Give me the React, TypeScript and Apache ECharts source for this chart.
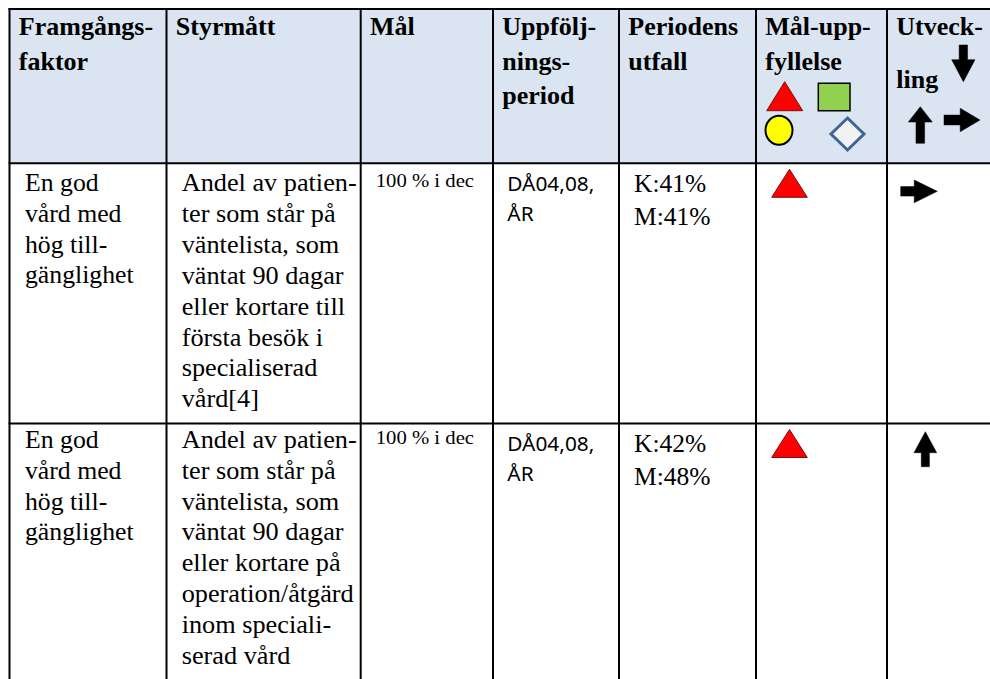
import React, { useEffect, useRef } from "react";
import * as echarts from "echarts";

// ---------- data ----------
const headerLines: string[][] = [
  ["Framgångs-", "faktor"],
  ["Styrmått"],
  ["Mål"],
  ["Uppfölj-", "nings-", "period"],
  ["Periodens", "utfall"],
  ["Mål-upp-", "fyllelse"],
  ["Utveck-"],
];
const headerTrendWord = "ling";

const factors: string[][] = [
  ["En god", "vård med", "hög till-", "gänglighet"],
  ["En god", "vård med", "hög till-", "gänglighet"],
];
const measures: string[][] = [
  ["Andel av patien-", "ter som står på", "väntelista, som", "väntat 90 dagar", "eller kortare till", "första besök i", "specialiserad", "vård[4]"],
  ["Andel av patien-", "ter som står på", "väntelista, som", "väntat 90 dagar", "eller kortare på", "operation/åtgärd", "inom speciali-", "serad vård"],
];
const goals: string[] = ["100 % i dec", "100 % i dec"];
const periods: string[][] = [
  ["DÅ04,08,", "ÅR"],
  ["DÅ04,08,", "ÅR"],
];
const outcomes: string[][] = [
  ["K:41%", "M:41%"],
  ["K:42%", "M:48%"],
];
const fulfilment: string[] = ["red", "red"];
const trends: string[] = ["right", "up"];

// ---------- layout ----------
const COLS = [9.5, 166.5, 360.7, 493, 619, 756, 887, 1000];
const ROWS = [9, 163.3, 423.5, 700];
const HEADER_BG = "#DBE5F1";
const SERIF = '"Liberation Serif", "Times New Roman", serif';
const SANS = '"Noto Sans", "Liberation Sans", sans-serif';

function txt(x: number, baseline: number, lines: string[], size: number, lh: number, opt: any = {}) {
  const k = opt.k ?? 0.3375;
  const y = baseline - k * size - lh / 2;
  return {
    type: "text",
    x,
    y,
    scaleX: opt.scaleX ?? 1,
    silent: true,
    style: {
      text: lines.join("\n"),
      fill: "#000",
      fontSize: size,
      fontFamily: opt.family ?? SERIF,
      fontWeight: opt.bold ? "bold" : "normal",
      lineHeight: lh,
      align: "left",
      verticalAlign: "top",
    },
  };
}

function arrow(dir: string, x0: number, y0: number, x1: number, y1: number, shaft = 0.36, head = 0.5) {
  const pts: number[][] = [];
  if (dir === "up" || dir === "down") {
    const W = x1 - x0, H = y1 - y0, cx = (x0 + x1) / 2, sw = (W * shaft) / 2;
    if (dir === "up") {
      const hy = y0 + H * head;
      pts.push([cx, y0], [x1, hy], [cx + sw, hy], [cx + sw, y1], [cx - sw, y1], [cx - sw, hy], [x0, hy]);
    } else {
      const hy = y1 - H * head;
      pts.push([cx, y1], [x1, hy], [cx + sw, hy], [cx + sw, y0], [cx - sw, y0], [cx - sw, hy], [x0, hy]);
    }
  } else {
    const W = x1 - x0, H = y1 - y0, cy = (y0 + y1) / 2, sw = (H * shaft) / 2;
    const hx = x1 - W * head;
    pts.push([x1, cy], [hx, y0], [hx, cy - sw], [x0, cy - sw], [x0, cy + sw], [hx, cy + sw], [hx, y1]);
  }
  return { type: "polygon", silent: true, shape: { points: pts }, style: { fill: "#000", stroke: "#000", lineWidth: 0.5 } };
}

function triangle(x0: number, y0: number, x1: number, y1: number) {
  return {
    type: "polygon",
    silent: true,
    shape: { points: [[(x0 + x1) / 2, y0], [x1, y1], [x0, y1]] },
    style: { fill: "#FF0000", stroke: "#7a1010", lineWidth: 1 },
  };
}

function symbolColor(s: string) {
  return s === "red" ? "#FF0000" : s === "green" ? "#92D050" : s === "yellow" ? "#FFFF00" : "#F2F2F2";
}

function buildGraphics() {
  const els: any[] = [];
  // header background
  els.push({ type: "rect", silent: true, shape: { x: COLS[0], y: ROWS[0], width: COLS[7] - COLS[0], height: ROWS[1] - ROWS[0] }, style: { fill: HEADER_BG } });

  // header texts
  headerLines.forEach((lines, i) => {
    els.push(txt(COLS[i] + 9.3, 35.5, lines, 26, 34.3, { bold: true, scaleX: 1.0 }));
  });
  els.push(txt(COLS[6] + 9.3, 88, [headerTrendWord], 26, 34.3, { bold: true, scaleX: 1.0 }));

  // legend symbols in header
  const c5 = COLS[5], c6 = COLS[6];
  els.push(triangle(c5 + 10.7, 81.7, c5 + 46.7, 110.7));
  els.push({ type: "rect", silent: true, shape: { x: c5 + 62.3, y: 83.3, width: 31.7, height: 27.4 }, style: { fill: "#92D050", stroke: "#000", lineWidth: 1.5 } });
  els.push({ type: "ellipse", silent: true, shape: { cx: c5 + 23, cy: 130.3, rx: 13.5, ry: 14.5 }, style: { fill: "#FFFF00", stroke: "#000", lineWidth: 2 } });
  els.push({
    type: "polygon",
    silent: true,
    shape: { points: [[c5 + 91.5, 118], [c5 + 108, 134], [c5 + 91.5, 150], [c5 + 75, 134]] },
    style: { fill: "#F2F2F2", stroke: "#3E6797", lineWidth: 3 },
  });
  els.push(arrow("down", c6 + 64.7, 45, c6 + 88, 81.7, 0.36, 0.6));
  els.push(arrow("up", c6 + 21.3, 106.7, c6 + 45.3, 143.3, 0.36, 0.42));
  els.push(arrow("right", c6 + 57, 108.3, c6 + 93, 131.7, 0.42, 0.55));

  // body rows
  const rowBase = [
    { factor: 27.4, measure: 28, goal: 23, period: 27.4, outcome: 28.4 },
    { factor: 24.3, measure: 24.5, goal: 20, period: 27.2, outcome: 28.2 },
  ];
  factors.forEach((_, r) => {
    const top = ROWS[r + 1];
    const b = rowBase[r];
    els.push(txt(COLS[0] + 15.5, top + b.factor, factors[r], 25, 30.7, { scaleX: 1.03 }));
    els.push(txt(COLS[1] + 15.2, top + b.measure, measures[r], 25.5, 30.9, { scaleX: 1.03 }));
    els.push(txt(COLS[2] + 15, top + b.goal, [goals[r]], 18.5, 20, { scaleX: 1.12 }));
    els.push(txt(COLS[3] + 14.3, top + b.period, periods[r], 19.5, 30.5, { family: SANS, k: 0.388, scaleX: 1.07 }));
    els.push(txt(COLS[4] + 15, top + b.outcome, outcomes[r], 25, 33, { scaleX: 1.02 }));
    // fulfilment symbol
    if (fulfilment[r] === "red") {
      els.push(triangle(COLS[5] + 15.7, top + 6, COLS[5] + 51.3, top + 34));
    } else {
      els.push({ type: "ellipse", silent: true, shape: { cx: COLS[5] + 33, cy: top + 20, rx: 14, ry: 14 }, style: { fill: symbolColor(fulfilment[r]), stroke: "#000", lineWidth: 2 } });
    }
    // trend arrow
    const t = trends[r];
    if (t === "right") els.push(arrow("right", COLS[6] + 13.7, top + 16.7, COLS[6] + 50.3, top + 39.4, 0.42, 0.63));
    else if (t === "up") els.push(arrow("up", COLS[6] + 27, top + 8.2, COLS[6] + 49.7, top + 43.2, 0.36, 0.6));
    else els.push(arrow("down", COLS[6] + 27, top + 8.2, COLS[6] + 49.7, top + 43.2, 0.36, 0.6));
  });

  // grid lines
  const lw = 2;
  for (let i = 0; i < COLS.length - 1; i++) {
    els.push({ type: "line", silent: true, shape: { x1: COLS[i], y1: ROWS[0] - 1, x2: COLS[i], y2: ROWS[3] }, style: { stroke: "#000", lineWidth: lw } });
  }
  for (let j = 0; j < ROWS.length - 1; j++) {
    els.push({ type: "line", silent: true, shape: { x1: COLS[0] - 1, y1: ROWS[j], x2: COLS[7], y2: ROWS[j] }, style: { stroke: "#000", lineWidth: lw } });
  }
  return els;
}

export default function App() {
  const ref = useRef<HTMLDivElement>(null);
  useEffect(() => {
    document.body.style.margin = "0";
    const chart = echarts.init(ref.current!, null, { renderer: "svg" });
    chart.setOption({
      animation: false,
      backgroundColor: "#ffffff",
      graphic: { elements: buildGraphics() },
    });
    return () => chart.dispose();
  }, []);
  return <div ref={ref} style={{ position: "fixed", left: 0, top: 0, width: 990, height: 679 }} />;
}
